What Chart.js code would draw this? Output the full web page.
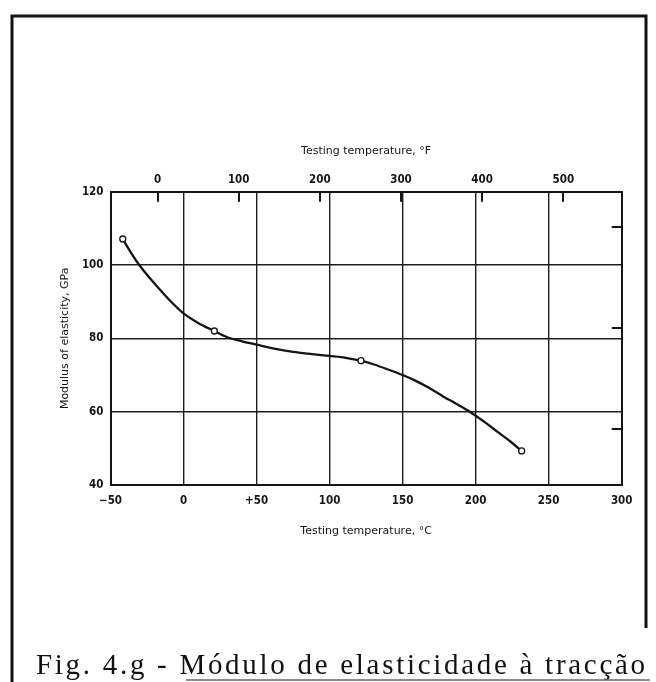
<!DOCTYPE html>
<html>
<head>
<meta charset="utf-8">
<script src="https://cdn.jsdelivr.net/npm/chart.js@4.4.1/dist/chart.umd.min.js"></script>
<style>
  html, body { margin: 0; padding: 0; background: #fff; overflow: hidden; }
  #wrap { position: relative; width: 656px; height: 682px; }
  canvas { display: block; }
</style>
</head>
<body>
<div id="wrap"><canvas id="c" width="656" height="682"></canvas></div>
<script>
// Modulus of elasticity vs. testing temperature (smooth curve)
const curveTempC = [-41.6, -36, -30.3, -20, -10, 0, 10, 21.1, 30, 40, 50, 62, 75, 88, 100, 111, 121.5, 131, 140, 150, 158, 168, 178, 187, 196, 206, 215, 224, 231.5];
const curveGPa   = [107.1, 103.4, 100, 95.0, 90.6, 86.8, 84.2, 82.0, 80.3, 79.2, 78.3, 77.2, 76.3, 75.7, 75.2, 74.7, 73.9, 72.8, 71.5, 70.0, 68.6, 66.5, 64.1, 62.1, 60.0, 57.2, 54.5, 51.8, 49.3];

// Measured points (open circles)
const pointTempC = [-41.6, 21.1, 121.5, 231.5];
const pointGPa   = [107.1, 82.0, 73.9, 49.3];

// Axis ranges and ticks
const celsiusRange = [-50, 300];
const celsiusStep = 50;
const fahrenheitStep = 100;
const modulusRange = [40, 120];
const modulusStep = 20;
const msiStep = 4;          // right-hand marks, 10^6 psi
const GPA_PER_MSI = 6.895;

const captionText = 'Fig. 4.g - Módulo de elasticidade à tracção';

const cToF = c => c * 9 / 5 + 32;

const axisFont = { family: "'DejaVu Sans Condensed', 'DejaVu Sans', sans-serif", size: 11.5, weight: 'bold' };
const titleFont = { family: "'DejaVu Sans', sans-serif", size: 11 };
const ink = '#151515';
const gridInk = '#1e1e1e';

const framePlugin = {
  id: 'pageFrame',
  beforeDraw(chart) {
    const ctx = chart.ctx;
    ctx.save();
    ctx.fillStyle = '#fff';
    ctx.fillRect(0, 0, chart.width, chart.height);
    ctx.restore();
  },
  afterDraw(chart) {
    const ctx = chart.ctx;
    ctx.save();
    // page border
    ctx.strokeStyle = '#111';
    ctx.lineWidth = 3;
    ctx.beginPath();
    ctx.moveTo(12, 682);
    ctx.lineTo(12, 16);
    ctx.lineTo(646, 16);
    ctx.lineTo(646, 628);
    ctx.stroke();
    // caption, spread to span the page width
    ctx.font = "29px 'Liberation Serif', 'Times New Roman', serif";
    ctx.fillStyle = '#111';
    ctx.textBaseline = 'alphabetic';
    const left = 36, right = 645, base = 674;
    const natural = ctx.measureText(captionText).width;
    const gap = Math.max(0, (right - left - natural) / (captionText.length - 1));
    if ('letterSpacing' in ctx) {
      ctx.letterSpacing = gap.toFixed(2) + 'px';
      ctx.fillText(captionText, left, base);
    } else {
      let x = left;
      for (const ch of captionText) {
        ctx.fillText(ch, x, base);
        x += ctx.measureText(ch).width + gap;
      }
    }
    ctx.restore();
    ctx.save();
    ctx.strokeStyle = '#666';
    ctx.lineWidth = 1.5;
    ctx.beginPath();
    ctx.moveTo(186, 680);
    ctx.lineTo(650, 680);
    ctx.stroke();
    ctx.restore();
  }
};

const chart = new Chart(document.getElementById('c'), {
  type: 'scatter',
  data: {
    datasets: [
      {
        label: 'curve',
        data: curveTempC.map((t, i) => ({ x: t, y: curveGPa[i] })),
        showLine: true,
        borderColor: ink,
        borderWidth: 2.3,
        pointRadius: 0,
        cubicInterpolationMode: 'monotone',
        xAxisID: 'x',
        yAxisID: 'y',
        order: 2
      },
      {
        label: 'points',
        data: pointTempC.map((t, i) => ({ x: t, y: pointGPa[i] })),
        showLine: false,
        pointRadius: 3,
        pointBackgroundColor: '#fff',
        pointBorderColor: ink,
        pointBorderWidth: 1.3,
        xAxisID: 'x',
        yAxisID: 'y',
        order: 1
      }
    ]
  },
  options: {
    responsive: false,
    animation: false,
    devicePixelRatio: 1,
    layout: { padding: { left: 58.4, top: 144.4, right: 0, bottom: 144.4 } },
    plugins: { legend: { display: false }, tooltip: { enabled: false } },
    scales: {
      x: {
        type: 'linear',
        position: 'bottom',
        min: celsiusRange[0],
        max: celsiusRange[1],
        ticks: {
          stepSize: celsiusStep,
          color: ink,
          font: axisFont,
          padding: 9.5,
          maxRotation: 0,
          callback: v => v < 0 ? '\u2212' + Math.abs(v) : (v === 50 ? '+50' : String(v))
        },
        grid: { color: gridInk, lineWidth: 1.4, drawTicks: false },
        border: { color: ink, width: 2 },
        title: { display: true, text: 'Testing temperature, °C', color: ink, font: titleFont, padding: 0 },
        afterFit: s => { s.height = 52.6; }
      },
      xF: {
        type: 'linear',
        position: 'top',
        min: cToF(celsiusRange[0]),
        max: cToF(celsiusRange[1]),
        ticks: {
          stepSize: fahrenheitStep,
          includeBounds: false,
          color: ink,
          font: axisFont,
          padding: 14.5,
          maxRotation: 0
        },
        grid: { drawOnChartArea: false, drawTicks: true, tickLength: -10, color: ink, lineWidth: 2 },
        border: { color: ink, width: 2 },
        title: { display: true, text: 'Testing temperature, °F', color: ink, font: titleFont, padding: 0 },
        afterFit: s => { s.height = 47.3; }
      },
      y: {
        type: 'linear',
        position: 'left',
        min: modulusRange[0],
        max: modulusRange[1],
        ticks: { stepSize: modulusStep, color: ink, font: axisFont, padding: 7 },
        grid: { color: gridInk, lineWidth: 1.4, drawTicks: false },
        border: { color: ink, width: 2 },
        title: { display: true, text: 'Modulus of elasticity, GPa', color: ink, font: titleFont, padding: 0 },
        afterFit: s => { s.width = 52.1; }
      },
      yMsi: {
        type: 'linear',
        position: 'right',
        min: modulusRange[0] / GPA_PER_MSI,
        max: modulusRange[1] / GPA_PER_MSI,
        ticks: { stepSize: msiStep, includeBounds: false, display: false },
        grid: { drawOnChartArea: false, drawTicks: true, tickLength: -10, color: ink, lineWidth: 2 },
        border: { color: ink, width: 2 },
        afterFit: s => { s.width = 34.3; }
      }
    }
  },
  plugins: [framePlugin]
});
</script>
</body>
</html>
